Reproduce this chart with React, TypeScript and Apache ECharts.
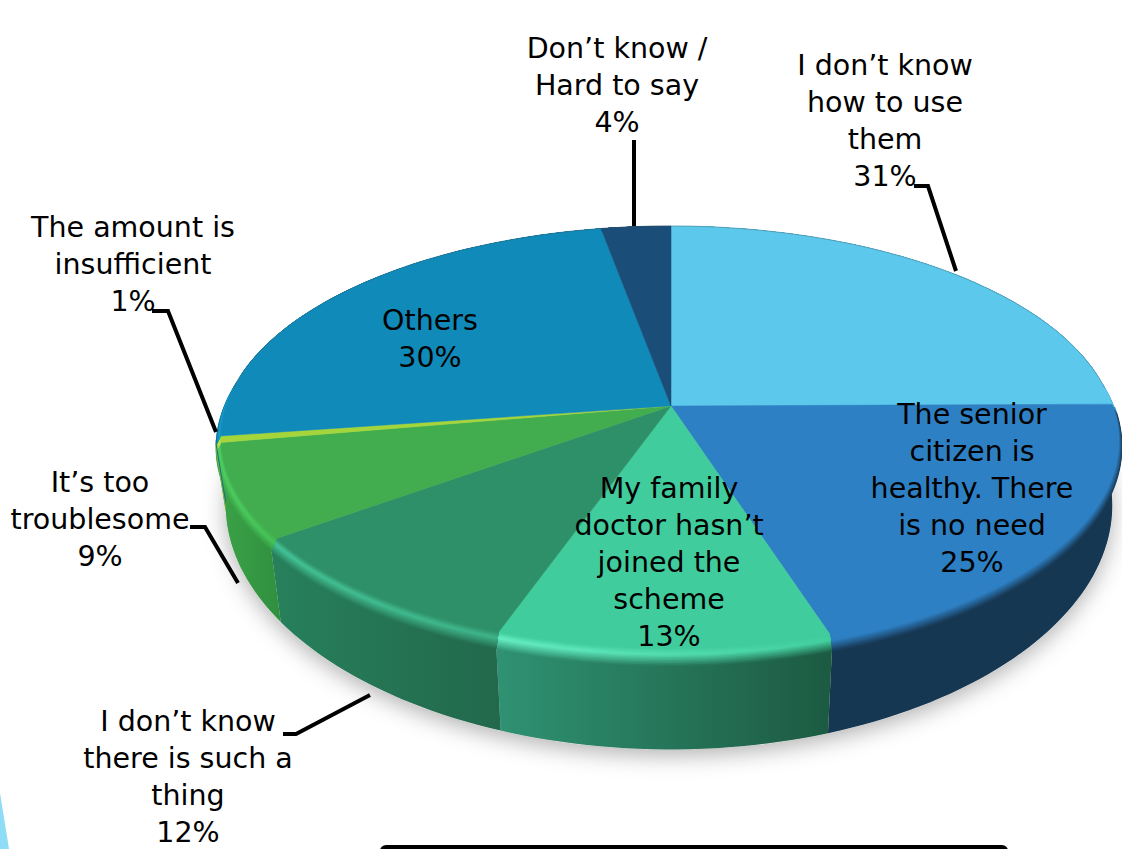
import React, { useEffect, useRef } from "react";
import * as echarts from "echarts";

const CATEGORIES = [
  "I don’t know\nhow to use\nthem",
  "The senior\ncitizen is\nhealthy. There\nis no need",
  "My family\ndoctor hasn’t\njoined the\nscheme",
  "I don’t know\nthere is such a\nthing",
  "It’s too\ntroublesome",
  "The amount is\ninsufficient",
  "Others",
  "Don’t know /\nHard to say",
];
const VALUES = [31, 25.1, 13, 12, 9, 0.6, 30.4, 3.6];

const TOP_COLORS = ["#5bc8ec", "#2e80c4", "#40cc9c", "#2e9068", "#41ad4e", "#a4d63c", "#108ab8", "#1a4d78"];
const WALL_LEFT = ["#3a9ac0", "#163752", "#2f9272", "#27805c", "#3ca447", "#7fb030", "#0c6d92", "#123a5c"];
const WALL_RIGHT = ["#3a9ac0", "#163752", "#1c5a42", "#22684c", "#2f8f3f", "#7fb030", "#0c6d92", "#123a5c"];
const HILITE_LEFT = ["#5bc8ec", "#2e80c4", "#66efc4", "#44c498", "#4fd062", "#b8e850", "#18a0d0", "#1a4d78"];
const HILITE_RIGHT = ["#5bc8ec", "#2e80c4", "#42cf9f", "#3eb48a", "#45c256", "#b8e850", "#18a0d0", "#1a4d78"];

const LABEL_ANCHORS = [
  [885, 46.5], [972, 395.5], [669, 469.5], [188, 702.5],
  [100, 463.5], [133, 208.5], [430, 301.5], [617, 29.5],
];
const LEADERS: (number[][] | null)[] = [
  [[914, 186], [928, 186], [956, 271]],
  null,
  null,
  [[283, 734], [296, 734], [370, 695]],
  [[190, 527], [205, 527], [238, 583]],
  [[152, 311], [168, 311], [216, 432]],
  null,
  [[634, 140], [634, 226]],
];

const CX = 671, CY = 406, A_LEFT = 445, A_RIGHT = 441, B = 206.5, K = 0.147;
const DEPTH = 65, BEVEL_H = 9, BEVEL_R = 1.012, BOTTOM_R = 0.99, BANDS = 12;
const LINE_H = 37, PCT_BOX = 28;
const TOTAL = VALUES.reduce((a, b) => a + b, 0);

function project(deg: number, r: number, h: number): number[] {
  const t = (deg * Math.PI) / 180;
  const x = r * Math.sin(t);
  const y = -r * Math.cos(t);
  const s = 1 / (1 - K * y);
  return [CX + (x < 0 ? A_LEFT : A_RIGHT) * x * s, CY + B * y * s + h * s * s * s];
}
function arc(a0: number, a1: number, r: number, h: number): number[][] {
  const n = Math.max(2, Math.ceil((a1 - a0) / 1.5));
  const pts: number[][] = [];
  for (let i = 0; i <= n; i++) pts.push(project(a0 + ((a1 - a0) * i) / n, r, h));
  return pts;
}
function sliceAngles(i: number): number[] {
  let sum = 0;
  for (let j = 0; j < i; j++) sum += VALUES[j];
  return [(sum / TOTAL) * 360, ((sum + VALUES[i]) / TOTAL) * 360];
}
function mix(c1: string, c2: string, t: number): string {
  const p = (c: string, o: number) => parseInt(c.slice(o, o + 2), 16);
  const ch = (o: number) => Math.round(p(c1, o) + (p(c2, o) - p(c1, o)) * t).toString(16).padStart(2, "0");
  return "#" + ch(1) + ch(3) + ch(5);
}
function bevelColor(top: string, hi: string, wall: string, t: number): string {
  return t < 0.35 ? mix(top, hi, t / 0.35) : mix(hi, wall, (t - 0.35) / 0.65);
}

function renderSides(params: any, api: any) {
  const i = params.dataIndex;
  api.value(0);
  const [a0, a1] = sliceAngles(i);
  const children: any[] = [];
  const w0 = Math.max(a0, 88), w1 = Math.min(a1, 263);
  if (w1 > w0) {
    const upper = arc(w0, w1, BEVEL_R, BEVEL_H * 0.8);
    const lower = arc(w0, w1, BOTTOM_R, DEPTH).reverse();
    children.push({
      type: "polygon",
      shape: { points: upper.concat(lower) },
      style: {
        fill: new echarts.graphic.LinearGradient(0, 0, 1, 0, [
          { offset: 0, color: WALL_LEFT[i] },
          { offset: 1, color: WALL_RIGHT[i] },
        ]),
      },
      silent: true,
    });
  }
  const inner = arc(a0, a1, 1, 0);
  for (let b = BANDS - 1; b >= 0; b--) {
    const t1 = (b + 1) / BANDS, tm = (b + 0.5) / BANDS;
    const outer = arc(a0, a1, 1 + (BEVEL_R - 1) * t1, BEVEL_H * t1).reverse();
    const left = bevelColor(TOP_COLORS[i], HILITE_LEFT[i], WALL_LEFT[i], tm);
    const right = bevelColor(TOP_COLORS[i], HILITE_RIGHT[i], WALL_RIGHT[i], tm);
    children.push({
      type: "polygon",
      shape: { points: inner.concat(outer) },
      style: {
        fill: new echarts.graphic.LinearGradient(0, 0, 1, 0, [
          { offset: 0, color: left },
          { offset: 1, color: right },
        ]),
      },
      silent: true,
    });
  }
  return { type: "group", children };
}

function renderTop(params: any, api: any) {
  const i = params.dataIndex;
  api.value(0);
  const [a0, a1] = sliceAngles(i);
  const children: any[] = [
    {
      type: "polygon",
      shape: { points: [[CX, CY], ...arc(a0, a1, 1, 0)] },
      style: { fill: TOP_COLORS[i], stroke: TOP_COLORS[i], lineWidth: 0.5 },
      silent: true,
    },
  ];
  const ranges = [
    [a0, Math.min(a1, 85)],
    [Math.max(a0, 275), a1],
  ];
  for (const [e0, e1] of ranges) {
    if (e1 > e0) {
      children.push({
        type: "polyline",
        shape: { points: arc(e0, e1, 1, 0) },
        style: { stroke: "rgba(70,80,90,0.35)", lineWidth: 1, fill: "none" },
        silent: true,
      });
    }
  }
  return { type: "group", children };
}

function renderLabels(params: any, api: any) {
  const i = params.dataIndex;
  const v = api.value(0);
  const [x, y] = LABEL_ANCHORS[i];
  const lines = CATEGORIES[i].split("\n").length;
  const font = '28.5px "DejaVu Sans"';
  const children: any[] = [
    {
      type: "text",
      x,
      y,
      style: { text: CATEGORIES[i], fill: "#000", font, lineHeight: LINE_H, align: "center", verticalAlign: "top" },
      silent: true,
    },
    {
      type: "text",
      x,
      y: y + LINE_H * lines + (LINE_H - PCT_BOX) / 2,
      style: { text: `${Math.round(v)}%`, fill: "#000", font, lineHeight: PCT_BOX, align: "center", verticalAlign: "top" },
      silent: true,
    },
  ];
  if (LEADERS[i]) {
    children.push({
      type: "polyline",
      shape: { points: LEADERS[i] },
      style: { stroke: "#000", lineWidth: 4, fill: "none" },
      silent: true,
    });
  }
  return { type: "group", children };
}

export default function App() {
  const ref = useRef<HTMLDivElement>(null);
  useEffect(() => {
    const chart = echarts.init(ref.current!, undefined, { renderer: "svg" });
    const shadow = arc(0, 360, BOTTOM_R, DEPTH);
    chart.setOption({
      animation: false,
      backgroundColor: "#ffffff",
      graphic: [
        {
          type: "polygon",
          shape: { points: shadow },
          style: { fill: "#d8d8d8", shadowBlur: 22, shadowColor: "rgba(0,0,0,0.3)", shadowOffsetY: 6 },
          silent: true,
        },
        {
          type: "polygon",
          shape: { points: [[0, 793], [9, 849], [0, 849]] },
          style: { fill: "#8edcf6" },
          silent: true,
        },
        {
          type: "rect",
          shape: { x: 380, y: 845, width: 628, height: 12, r: 6 },
          style: { fill: "#000" },
          silent: true,
        },
      ],
      series: [
        { type: "custom", coordinateSystem: "none", data: VALUES, renderItem: renderSides, z: 2 },
        { type: "custom", coordinateSystem: "none", data: VALUES, renderItem: renderTop, z: 3 },
        { type: "custom", coordinateSystem: "none", data: VALUES, renderItem: renderLabels, z: 4 },
      ],
    });
    return () => chart.dispose();
  }, []);
  return <div ref={ref} style={{ position: "fixed", left: 0, top: 0, width: 1122, height: 849 }} />;
}
